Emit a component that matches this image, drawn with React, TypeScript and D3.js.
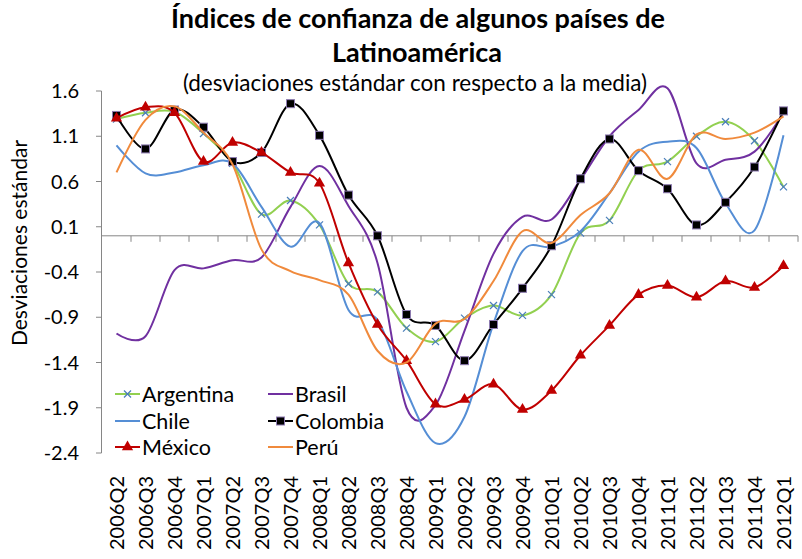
import React from 'react';
import * as d3 from 'd3';

const quarters = [
  '2006Q2', '2006Q3', '2006Q4', '2007Q1', '2007Q2', '2007Q3', '2007Q4', '2008Q1',
  '2008Q2', '2008Q3', '2008Q4', '2009Q1', '2009Q2', '2009Q3', '2009Q4', '2010Q1',
  '2010Q2', '2010Q3', '2010Q4', '2011Q1', '2011Q2', '2011Q3', '2011Q4', '2012Q1',
];

const argentina = [1.29, 1.36, 1.37, 1.13, 0.80, 0.24, 0.39, 0.12, -0.53, -0.62, -1.02, -1.17,
  -0.91, -0.77, -0.88, -0.65, 0.03, 0.17, 0.72, 0.82, 1.10, 1.26, 1.05, 0.54];
const brasil = [-1.08, -1.11, -0.38, -0.36, -0.27, -0.24, 0.32, 0.77, 0.33, -0.30, -1.90, -1.87,
  -1.05, -0.20, 0.21, 0.18, 0.62, 1.10, 1.39, 1.63, 0.80, 0.84, 0.93, 1.36];
const chile = [1.00, 0.69, 0.70, 0.78, 0.80, 0.32, -0.12, 0.14, -0.82, -0.93, -1.72, -2.29,
  -2.00, -0.97, -0.17, -0.12, 0.05, 0.47, 0.93, 1.04, 0.97, 0.36, 0.06, 1.11];
const colombia = [1.33, 0.96, 1.39, 1.20, 0.82, 0.92, 1.46, 1.11, 0.45, 0.00, -0.87, -0.99,
  -1.38, -0.98, -0.58, -0.11, 0.63, 1.07, 0.72, 0.52, 0.12, 0.37, 0.76, 1.38];
const mexico = [1.30, 1.42, 1.36, 0.82, 1.03, 0.92, 0.70, 0.58, -0.30, -0.98, -1.38, -1.86,
  -1.81, -1.64, -1.92, -1.71, -1.32, -0.99, -0.65, -0.55, -0.68, -0.50, -0.57, -0.33];
const peru = [0.70, 1.28, 1.43, 1.14, 0.79, -0.15, -0.39, -0.49, -0.65, -1.27, -1.40, -0.97,
  -0.92, -0.50, 0.05, -0.08, 0.23, 0.47, 0.95, 0.63, 1.12, 1.07, 1.14, 1.32];

const yTicks = [1.6, 1.1, 0.6, 0.1, -0.4, -0.9, -1.4, -1.9, -2.4];

const series = [
  { name: 'Argentina', values: argentina, color: '#92d050', marker: 'x' },
  { name: 'Brasil', values: brasil, color: '#7030a0', marker: 'none' },
  { name: 'Chile', values: chile, color: '#558ed5', marker: 'none' },
  { name: 'Colombia', values: colombia, color: '#000000', marker: 'square' },
  { name: 'México', values: mexico, color: '#c00000', marker: 'triangle' },
  { name: 'Perú', values: peru, color: '#f08a3c', marker: 'none' },
];

const font = 'Lato, sans-serif';
const width = 802;
const height = 559;

const x = d3.scaleBand<string>().domain(quarters).range([102, 798]);
const y = d3.scaleLinear().domain([-2.4, 1.6]).range([453, 91]);
const cx = (q: string) => (x(q) as number) + x.bandwidth() / 2;

const line = d3.line<number>()
  .x((d, i) => cx(quarters[i]))
  .y(d => y(d))
  .curve(d3.curveCatmullRom.alpha(0));

const triangle = d3.symbol().type(d3.symbolTriangle).size(55)();

const Marker = ({ type, px, py }: { type: string; px: number; py: number }) => {
  if (type === 'x') {
    return (
      <g stroke="#4a7ebb" strokeWidth={1.2}>
        <line x1={px - 3.5} y1={py - 3.5} x2={px + 3.5} y2={py + 3.5} />
        <line x1={px - 3.5} y1={py + 3.5} x2={px + 3.5} y2={py - 3.5} />
      </g>
    );
  }
  if (type === 'square') {
    return <rect x={px - 4} y={py - 4} width={8} height={8} fill="#000" stroke="#8d7bb0" strokeWidth={1} />;
  }
  if (type === 'triangle') {
    return <path d={triangle as string} transform={`translate(${px},${py})`} fill="#c00000" />;
  }
  return null;
};

const App = () => {
  const legendRows = [394, 421, 447];
  const legendCols = [115, 268];

  return (
    <svg width={width} height={height} style={{ position: 'absolute', left: 0, top: 0, background: '#fff' }}>
      {/* title */}
      <g fontFamily={font} textAnchor="middle" fill="#000">
        <text x={418} y={28} fontSize={27} fontWeight="bold">Índices de confianza de algunos países de</text>
        <text x={417} y={62} fontSize={27} fontWeight="bold">Latinoamérica</text>
        <text x={415} y={91} fontSize={22.5}>(desviaciones estándar con respecto a la media)</text>
      </g>

      {/* y axis */}
      <line x1={101.5} x2={101.5} y1={91} y2={453} stroke="#868686" />
      {yTicks.map(t => (
        <g key={t}>
          <line x1={96} x2={101.5} y1={y(t)} y2={y(t)} stroke="#868686" />
          <text x={79} y={y(t)} dy="0.35em" textAnchor="end" fontFamily={font} fontSize={20}>{t.toFixed(1)}</text>
        </g>
      ))}
      <text transform="translate(27,243) rotate(-90)" textAnchor="middle" fontFamily={font} fontSize={21}>
        Desviaciones estándar
      </text>

      {/* x axis at zero */}
      <line x1={101.5} x2={798} y1={y(0)} y2={y(0)} stroke="#868686" />
      {quarters.map(q => (
        <line key={q} x1={(x(q) as number) + x.bandwidth()} x2={(x(q) as number) + x.bandwidth()}
          y1={y(0)} y2={y(0) + 6} stroke="#868686" />
      ))}
      {quarters.map(q => (
        <text key={q} transform={`translate(${cx(q) + 7},476) rotate(-90)`} textAnchor="end"
          fontFamily={font} fontSize={20}>{q}</text>
      ))}

      {/* series */}
      {series.map(s => (
        <g key={s.name}>
          <path d={line(s.values) as string} fill="none" stroke={s.color} strokeWidth={2} />
          {s.values.map((v, i) => (
            <Marker key={i} type={s.marker} px={cx(quarters[i])} py={y(v)} />
          ))}
        </g>
      ))}

      {/* legend */}
      {series.map((s, i) => {
        const lx = legendCols[i % 2];
        const ly = legendRows[Math.floor(i / 2)];
        return (
          <g key={s.name}>
            <line x1={lx} x2={lx + 25} y1={ly} y2={ly} stroke={s.color} strokeWidth={2} />
            <Marker type={s.marker} px={lx + 12.5} py={ly} />
            <text x={lx + 27} y={ly} dy="0.35em" fontFamily={font} fontSize={21.5}>{s.name}</text>
          </g>
        );
      })}
    </svg>
  );
};

export default App;
